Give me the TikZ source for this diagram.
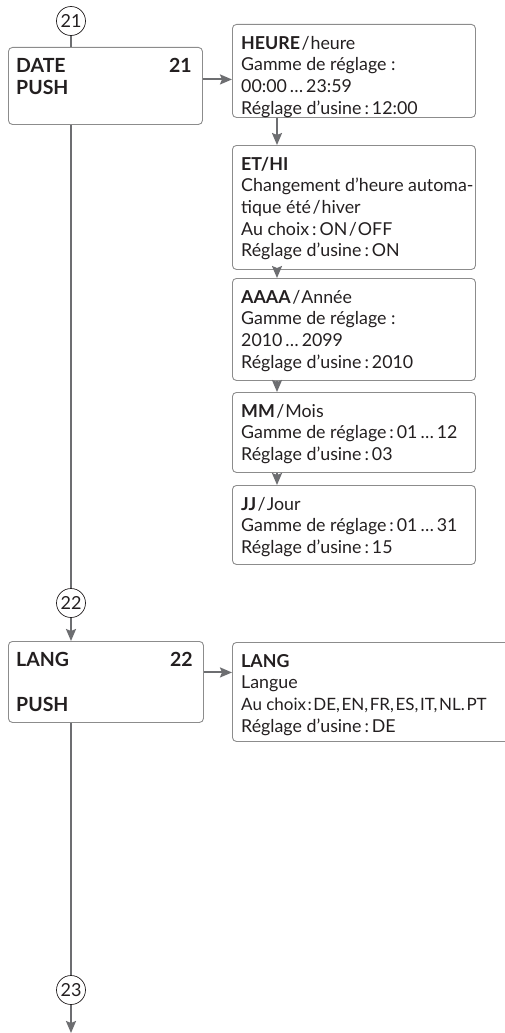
\documentclass[tikz,border=0pt]{standalone}
\usepackage{fontspec}
\setmainfont{Lato}
\usetikzlibrary{arrows.meta}
\definecolor{linegray}{HTML}{6D6E71}
\definecolor{boxgray}{HTML}{8C8C8C}
\definecolor{ink}{HTML}{231F20}
\newcommand{\myslash}{\hspace{1.5pt}/\hspace{1pt}}
\newcommand{\cs}{,\hspace{1.6pt}}
\begin{document}
\begin{tikzpicture}[x=1pt,y=-1pt,
  box/.style={draw=boxgray, line width=0.9pt, rounded corners=4pt, inner sep=0pt, anchor=north west},
  txt/.style={anchor=north west, inner sep=0pt, align=left, text=ink, font=\fontsize{17.8}{21.7}\selectfont},
  conn/.style={draw=linegray, line width=2pt},
  arr/.style={conn, -{Stealth[length=12pt,width=10pt,inset=2pt]}},
  num/.style={circle, draw=ink, line width=0.7pt, minimum size=29pt, inner sep=0pt, text=ink, font=\fontsize{18}{18}\selectfont},
  lbl/.style={text=ink, font=\fontsize{19.5}{19.5}\selectfont\bfseries, inner sep=0pt}
]
\useasboundingbox (0,0) rectangle (505,1033);
\clip (0,0) rectangle (505,1033);

% left column
\node[num] (c21) at (71,21) {21};
\node[box, minimum width=194pt, minimum height=77pt] (date) at (8,47) {};
\node[lbl, anchor=base west] (datel) at (16,73) {DATE};
\node[lbl, anchor=base west] (datep) at (16,95) {PUSH};
\node[lbl, anchor=base east] (daten) at (192,73) {21};

\node[num] (c22) at (71,603) {22};
\node[box, minimum width=195pt, minimum height=81pt] (lang) at (8,641) {};
\node[lbl, anchor=base west] (langl) at (16,666) {LANG};
\node[lbl, anchor=base west] (langp) at (16,711) {PUSH};
\node[lbl, anchor=base east] (langn) at (193,666) {22};

\node[num] (c23) at (71,990) {23};
\coordinate (end) at (71,1033);

% right column boxes
\node[box, minimum width=243pt, minimum height=93pt] (heure) at (232,24) {};
\node[box, minimum width=243pt, minimum height=124pt] (ethi) at (232,145) {};
\node[box, minimum width=243pt, minimum height=102pt] (aaaa) at (232,278) {};
\node[box, minimum width=243pt, minimum height=80pt] (mm) at (232,392) {};
\node[box, minimum width=243pt, minimum height=79pt] (jj) at (232,485) {};
\node[box, minimum width=300pt, minimum height=99pt] (langr) at (232,642) {};

\node[txt] (heuret) at ([xshift=9pt,yshift=-9.8pt]heure.north west)
  {\strut\textbf{HEURE}\myslash heure\\Gamme de réglage :\\00:00\,…\,23:59\\Réglage d’usine\,:\,12:00};
\node[txt] (ethit) at ([xshift=9pt,yshift=-9.8pt]ethi.north west)
  {\strut\textbf{ET/HI}\\Changement d’heure automa-\\tique été\myslash hiver\\Au choix\,:\,ON\myslash OFF\\Réglage d’usine\,:\,ON};
\node[txt] (aaaat) at ([xshift=9pt,yshift=-9.8pt]aaaa.north west)
  {\strut\textbf{AAAA}\myslash Année\\Gamme de réglage :\\2010\,…\,2099\\Réglage d’usine\,:\,2010};
\node[txt] (mmt) at ([xshift=9pt,yshift=-9.8pt]mm.north west)
  {\strut\textbf{MM}\myslash Mois\\Gamme de réglage\,:\,01\,…\,12\\Réglage d’usine\,:\,03};
\node[txt] (jjt) at ([xshift=9pt,yshift=-9.8pt]jj.north west)
  {\strut\textbf{JJ}\myslash Jour\\Gamme de réglage\,:\,01\,…\,31\\Réglage d’usine\,:\,15};
\node[txt] (langrt) at ([xshift=9pt,yshift=-9.8pt]langr.north west)
  {\strut\textbf{LANG}\\Langue\\{\fontsize{17}{21.7}\selectfont Au choix\hspace{1.5pt}:\hspace{1.5pt}DE\cs EN\cs FR\cs ES\cs IT\cs NL.\hspace{1.6pt}PT}\\Réglage d’usine\,:\,DE};

% connectors
\draw[conn] (c21.south) -- (c21.south |- date.north);
\draw[conn] (c21.south |- date.south) -- (c22.north);
\draw[arr] (c22.south) -- (c22.south |- lang.north);
\draw[conn] (c22.south |- lang.south) -- (c23.north);
\draw[arr] (c23.south) -- (end);

\draw[arr] ([yshift=6.5pt]date.east) -- ([yshift=6.5pt]date.east -| heure.west);
\draw[arr] ([yshift=9.5pt]lang.east) -- ([yshift=9.5pt]lang.east -| langr.west);

\draw[arr] ([xshift=45pt]heure.south west) -- ([xshift=45pt]ethi.north west);
\draw[arr] ([xshift=45pt]ethi.south west) -- ([xshift=45pt]aaaa.north west);
\draw[arr] ([xshift=45pt]aaaa.south west) -- ([xshift=45pt]mm.north west);
\draw[arr] ([xshift=45pt]mm.south west) -- ([xshift=45pt]jj.north west);
\end{tikzpicture}
\end{document}
